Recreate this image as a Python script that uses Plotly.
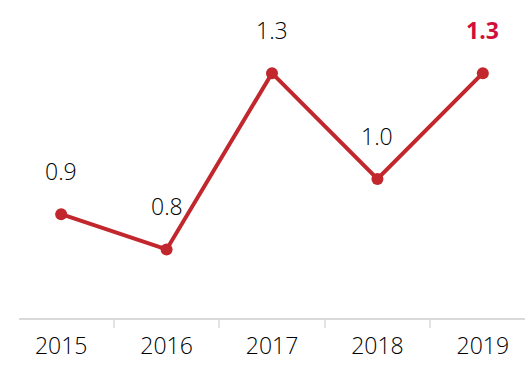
import plotly.graph_objects as go

years = ["2015", "2016", "2017", "2018", "2019"]
values = [0.9, 0.8, 1.3, 1.0, 1.3]
labels = ["0.9", "0.8", "1.3", "1.0", "1.3"]

line_color = "#C1272D"
highlight = "#D0103A"
text_color = "#000000"

fig = go.Figure()
fig.add_trace(go.Scatter(
    x=years, y=values, mode="lines+markers",
    line=dict(color=line_color, width=4),
    marker=dict(color=line_color, size=12),
    hoverinfo="skip",
))

# value labels above each point; the latest year is emphasised
for i, (v, lab) in enumerate(zip(values, labels)):
    last = i == len(values) - 1
    fig.add_annotation(
        xref="x", yref="y", x=i, y=v,
        text=f"<b>{lab}</b>" if last else lab,
        showarrow=False, yshift=43,
        font=dict(family="Open Sans", size=23,
                  color=highlight if last else text_color,
                  weight=700 if last else 300),
    )

fig.update_layout(
    width=530, height=384,
    margin=dict(l=19, r=5, t=0, b=66),
    paper_bgcolor="white", plot_bgcolor="white",
    showlegend=False,
    font=dict(family="Open Sans", size=23, color=text_color, weight=300),
)
fig.update_xaxes(
    type="category", range=[-0.4, 4.4],
    showline=True, linecolor="#d9d9d9", linewidth=2,
    ticks="outside", tickson="boundaries", ticklen=8, tickcolor="#e3e3e3", tickwidth=2,
    showgrid=False, zeroline=False,
    tickfont=dict(family="Open Sans", size=23, color=text_color, weight=300),
    ticklabelstandoff=6,
)
fig.update_yaxes(
    range=[0.6055, 1.5077], showticklabels=False, showline=False,
    showgrid=False, zeroline=False, ticks="",
)

fig.write_html("out.html")
